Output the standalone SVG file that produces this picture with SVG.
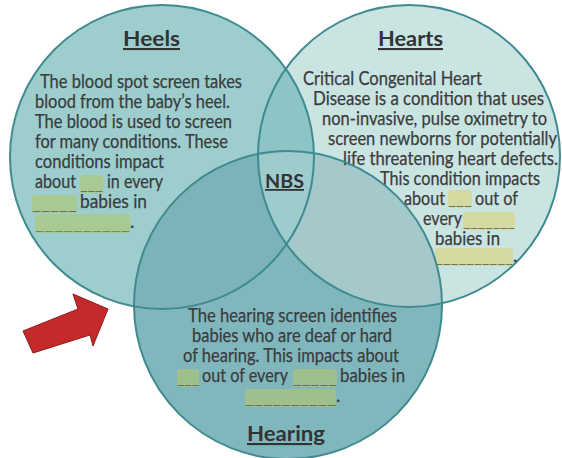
<svg xmlns="http://www.w3.org/2000/svg" width="562" height="458" viewBox="0 0 562 458">
<defs>
<style>
.t{font-family:Lato,"Open Sans","Liberation Sans",sans-serif;font-size:18.5px;fill:#3a3c3d;stroke:#3a3c3d;stroke-width:0.25}
.h{font-family:Lato,"Open Sans","Liberation Sans",sans-serif;font-weight:bold;fill:#313334;text-decoration:underline}
.ring{fill:none;stroke:#3f8b90;stroke-width:2}
.bx-g{fill:#a8c992}
.bx-y{fill:#d4d9a1}
.bx-h{fill:#9fbf8c}
.u{font-family:Lato,"Open Sans","Liberation Sans",sans-serif;font-size:12px;fill:#4b5a46}
</style>
<clipPath id="cHeels"><circle cx="162" cy="157" r="152"/></clipPath>
<clipPath id="cHearts"><circle cx="409" cy="156" r="151"/></clipPath>
<clipPath id="cHearing"><circle cx="288" cy="305" r="154"/></clipPath>
</defs>
<rect width="562" height="458" fill="#ffffff"/>
<g id="regions">
<circle cx="162" cy="157" r="152" fill="#9dcecd"/>
<circle cx="409" cy="156" r="151" fill="#cae4e2"/>
<circle cx="288" cy="305" r="154" fill="#80b7bd"/>
<circle cx="409" cy="156" r="151" fill="#8ec4c6" clip-path="url(#cHeels)"/>
<circle cx="288" cy="305" r="154" fill="#7cb3b9" clip-path="url(#cHeels)"/>
<circle cx="288" cy="305" r="154" fill="#a5c9cb" clip-path="url(#cHearts)"/>
<g clip-path="url(#cHearts)"><circle cx="288" cy="305" r="154" fill="#9ecbcc" clip-path="url(#cHeels)"/></g>
</g>
<g id="heels">
<circle class="ring" cx="162" cy="157" r="152"/>
<text class="h" x="123" y="46" font-size="21" textLength="57" lengthAdjust="spacingAndGlyphs">Heels</text>
<text class="t" x="40" y="88" textLength="202" lengthAdjust="spacingAndGlyphs">The blood spot screen takes</text>
<text class="t" x="35" y="108" textLength="195" lengthAdjust="spacingAndGlyphs">blood from the baby’s heel.</text>
<text class="t" x="35" y="128" textLength="197" lengthAdjust="spacingAndGlyphs">The blood is used to screen</text>
<text class="t" x="35" y="148" textLength="193" lengthAdjust="spacingAndGlyphs">for many conditions. These</text>
<text class="t" x="35" y="168" textLength="129" lengthAdjust="spacingAndGlyphs">conditions impact</text>
<text class="t" x="35" y="188" textLength="41" lengthAdjust="spacingAndGlyphs">about</text>
<rect class="bx-g" x="80" y="175" width="23" height="18" rx="3"/>
<text class="u" x="80" y="190" textLength="23" lengthAdjust="spacingAndGlyphs">___</text>
<text class="t" x="107" y="188" textLength="56" lengthAdjust="spacingAndGlyphs">in every</text>
<rect class="bx-g" x="32" y="195" width="45" height="18" rx="3"/>
<text class="u" x="32" y="210" textLength="45" lengthAdjust="spacingAndGlyphs">_____</text>
<text class="t" x="80" y="208" textLength="67" lengthAdjust="spacingAndGlyphs">babies in</text>
<rect class="bx-g" x="35" y="214" width="95" height="19" rx="3"/>
<text class="u" x="35" y="230" textLength="95" lengthAdjust="spacingAndGlyphs">__________</text>
<text class="t" x="130" y="228">.</text>
</g>
<g id="hearts">
<circle class="ring" cx="409" cy="156" r="151"/>
<text class="h" x="378" y="46" font-size="21" textLength="65" lengthAdjust="spacingAndGlyphs">Hearts</text>
<text class="t" x="303" y="85" textLength="179" lengthAdjust="spacingAndGlyphs">Critical Congenital Heart</text>
<text class="t" x="313" y="105" textLength="231" lengthAdjust="spacingAndGlyphs">Disease is a condition that uses</text>
<text class="t" x="322" y="125" textLength="225" lengthAdjust="spacingAndGlyphs">non-invasive, pulse oximetry to</text>
<text class="t" x="328" y="145" textLength="229" lengthAdjust="spacingAndGlyphs">screen newborns for potentially</text>
<text class="t" x="343" y="165" textLength="215" lengthAdjust="spacingAndGlyphs">life threatening heart defects.</text>
<text class="t" x="380" y="185" textLength="160" lengthAdjust="spacingAndGlyphs">This condition impacts</text>
<text class="t" x="404" y="205" textLength="41" lengthAdjust="spacingAndGlyphs">about</text>
<rect class="bx-y" x="448" y="190" width="24" height="18" rx="4"/>
<text class="u" x="448" y="205" textLength="24" lengthAdjust="spacingAndGlyphs">___</text>
<text class="t" x="475" y="205" textLength="43" lengthAdjust="spacingAndGlyphs">out of</text>
<text class="t" x="423" y="225" textLength="39" lengthAdjust="spacingAndGlyphs">every</text>
<rect class="bx-y" x="463" y="212" width="52" height="18" rx="4"/>
<text class="u" x="463" y="227" textLength="52" lengthAdjust="spacingAndGlyphs">_______</text>
<text class="t" x="435" y="245" textLength="65" lengthAdjust="spacingAndGlyphs">babies in</text>
<rect class="bx-y" x="435" y="248" width="78" height="18" rx="4"/>
<text class="u" x="435" y="263" textLength="78" lengthAdjust="spacingAndGlyphs">__________</text>
<text class="t" x="513" y="262">.</text>
</g>
<g id="hearing">
<circle class="ring" cx="288" cy="305" r="154"/>
<text class="h" x="247" y="441" font-size="21" textLength="78" lengthAdjust="spacingAndGlyphs">Hearing</text>
<text class="t" x="188" y="322" textLength="209" lengthAdjust="spacingAndGlyphs">The hearing screen identifies</text>
<text class="t" x="192" y="342" textLength="200" lengthAdjust="spacingAndGlyphs">babies who are deaf or hard</text>
<text class="t" x="183" y="362" textLength="216" lengthAdjust="spacingAndGlyphs">of hearing. This impacts about</text>
<rect class="bx-h" x="177" y="369" width="22" height="18" rx="3"/>
<text class="u" x="177" y="384" textLength="22" lengthAdjust="spacingAndGlyphs">___</text>
<text class="t" x="202" y="382" textLength="86" lengthAdjust="spacingAndGlyphs">out of every</text>
<rect class="bx-h" x="293" y="369" width="44" height="18" rx="3"/>
<text class="u" x="293" y="384" textLength="44" lengthAdjust="spacingAndGlyphs">_____</text>
<text class="t" x="340" y="382" textLength="65" lengthAdjust="spacingAndGlyphs">babies in</text>
<rect class="bx-h" x="245" y="389" width="91" height="18" rx="3"/>
<text class="u" x="245" y="404" textLength="91" lengthAdjust="spacingAndGlyphs">__________</text>
<text class="t" x="336" y="402">.</text>
</g>
<g id="nbs">
<text class="h" x="265" y="188" font-size="18" textLength="39" lengthAdjust="spacingAndGlyphs">NBS</text>
</g>
<g id="connectors">
<polygon points="23,331 78,309 73,294 108,309 93,346 90,335 33,353" fill="#c42a2a" stroke="#8e1a1a" stroke-width="1" stroke-linejoin="miter"/>
</g>
</svg>
